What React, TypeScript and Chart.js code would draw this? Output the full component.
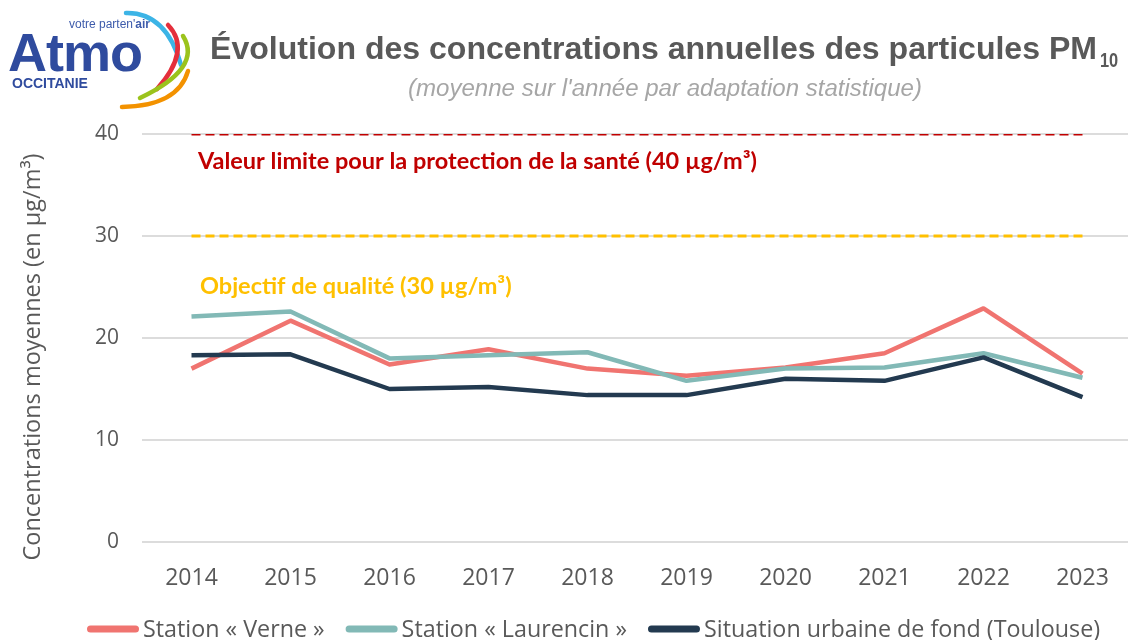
import React, { useEffect, useRef } from "react";
import { Chart, registerables } from "chart.js";

Chart.register(...registerables);

// ---------- data ----------
const years = ["2014", "2015", "2016", "2017", "2018", "2019", "2020", "2021", "2022", "2023"];
const verne = [17.0, 21.7, 17.4, 18.9, 17.0, 16.3, 17.1, 18.5, 22.9, 16.5];
const laurencin = [22.1, 22.6, 18.0, 18.3, 18.6, 15.8, 17.0, 17.1, 18.5, 16.1];
const toulouse = [18.3, 18.4, 15.0, 15.2, 14.4, 14.4, 16.0, 15.8, 18.1, 14.2];
const seriesNames = ["Station « Verne »", "Station « Laurencin »", "Situation urbaine de fond (Toulouse)"];
const seriesColors = ["#f07470", "#82b9b6", "#233a50"];
const limitValue = 40;
const qualityObjective = 30;
const yMin = 0;
const yMax = 40;
const yStep = 10;

const titleMain = "Évolution des concentrations annuelles des particules PM";
const titleSub = "10";
const subtitle = "(moyenne sur l'année par adaptation statistique)";
const yTitle = "Concentrations moyennes (en µg/m³)";
const limitLabel = "Valeur limite pour la protection de la santé (40 µg/m³)";
const objectiveLabel = "Objectif de qualité (30 µg/m³)";

const ARIAL = '"Liberation Sans", Arial, sans-serif';
const SANS = '"Open Sans", "Noto Sans", sans-serif';

function drawScaled(ctx: CanvasRenderingContext2D, text: string, x: number, y: number, font: string, targetWidth: number) {
  ctx.font = font;
  const w = ctx.measureText(text).width;
  const sx = targetWidth / w;
  ctx.save();
  ctx.translate(x, y);
  ctx.scale(sx, 1);
  ctx.fillText(text, 0, 0);
  ctx.restore();
}

const overlayPlugin = {
  id: "overlay",
  afterDraw(chart: any) {
    const ctx: CanvasRenderingContext2D = chart.ctx;
    const ys = chart.scales.y;
    ctx.save();
    // Title (narrow: Arial Narrow look through horizontal compression)
    ctx.textAlign = "left";
    ctx.textBaseline = "alphabetic";
    ctx.fillStyle = "#595959";
    drawScaled(ctx, titleMain, 210, 59, `bold 31px ${ARIAL}`, 887);
    ctx.font = `bold 20px ${ARIAL}`;
    const sw = ctx.measureText(titleSub).width * 0.82;
    drawScaled(ctx, titleSub, 1100, 67, `bold 20px ${ARIAL}`, sw);
    // Subtitle
    ctx.fillStyle = "#a6a6a6";
    drawScaled(ctx, subtitle, 408, 96, `italic 23px ${ARIAL}`, 514);

    // Reference labels
    ctx.font = 'bold 23.5px Lato, "Open Sans", sans-serif';
    ctx.fillStyle = "#c00000";
    ctx.fillText(limitLabel, 198, ys.getPixelForValue(limitValue) + 35);
    ctx.fillStyle = "#ffc000";
    ctx.fillText(objectiveLabel, 200, ys.getPixelForValue(qualityObjective) + 58);

    // Y axis title
    ctx.save();
    ctx.translate(33, 357);
    ctx.rotate(-Math.PI / 2);
    ctx.textAlign = "center";
    ctx.textBaseline = "middle";
    ctx.fillStyle = "#595959";
    ctx.font = `23.5px ${SANS}`;
    ctx.fillText(yTitle, 0, 0);
    ctx.restore();

    // Legend
    ctx.font = `23.3px ${SANS}`;
    ctx.textBaseline = "alphabetic";
    let x = 87;
    const ly = 629;
    chart.data.datasets.forEach((ds: any) => {
      if (ds.isReference) return;
      ctx.strokeStyle = ds.borderColor;
      ctx.lineWidth = 7;
      ctx.lineCap = "round";
      ctx.beginPath();
      ctx.moveTo(x + 3.5, ly);
      ctx.lineTo(x + 48.5, ly);
      ctx.stroke();
      ctx.fillStyle = "#595959";
      ctx.fillText(ds.label, x + 56, 637);
      x = x + 56 + ctx.measureText(ds.label).width + 21;
    });
    ctx.restore();
  },
};

function Logo() {
  const blue = "#2f4b9e";
  return (
    <svg width={200} height={115} style={{ position: "absolute", left: 0, top: 0 }}>
      <text x={69} y={28} fontFamily='"Liberation Sans", Arial, sans-serif' fontSize={12} fill="#3d5bab">
        votre parten'<tspan fontWeight="bold">air</tspan>
      </text>
      <text x={8} y={71} fontFamily='"Liberation Sans", Arial, sans-serif' fontWeight="bold" fontSize={54} fill={blue} letterSpacing={-1}>
        Atmo
      </text>
      <text x={12} y={88} fontFamily='"Liberation Sans", Arial, sans-serif' fontWeight="bold" fontSize={14} fill={blue}>
        OCCITANIE
      </text>
      <g fill="none" strokeWidth={4.5} strokeLinecap="round">
        <path d="M126 13 Q166 12 181 65" stroke="#3cb4e6" />
        <path d="M168 25 Q192 50 157 89" stroke="#e42f3c" />
        <path d="M183 36 Q203 68 140 98" stroke="#9bc31c" />
        <path d="M188 71 Q178 106 122 107" stroke="#f39200" />
      </g>
    </svg>
  );
}

export default function App() {
  const ref = useRef<HTMLCanvasElement | null>(null);

  useEffect(() => {
    if (!ref.current) return;
    const mk = (label: string, data: number[], color: string, order: number) => ({
      label,
      data,
      borderColor: color,
      backgroundColor: color,
      borderWidth: 4.5,
      pointRadius: 0,
      tension: 0,
      borderJoinStyle: "round" as const,
      borderCapStyle: "butt" as const,
      order,
    });
    const chart = new Chart(ref.current, {
      type: "line",
      data: {
        labels: years,
        datasets: [
          mk(seriesNames[0], verne, seriesColors[0], 3),
          mk(seriesNames[1], laurencin, seriesColors[1], 2),
          mk(seriesNames[2], toulouse, seriesColors[2], 1),
          {
            label: "limit",
            isReference: true,
            data: years.map(() => limitValue),
            borderColor: "#c00000",
            borderWidth: 3,
            borderDash: [9, 5],
            pointRadius: 0,
            order: 10,
          } as any,
          {
            label: "objective",
            isReference: true,
            data: years.map(() => qualityObjective),
            borderColor: "#ffc000",
            borderWidth: 3,
            borderDash: [9, 5],
            pointRadius: 0,
            order: 11,
          } as any,
        ],
      },
      options: {
        responsive: false,
        animation: false,
        layout: { padding: { top: 134, left: 0, right: 0, bottom: 0 } },
        plugins: {
          legend: { display: false },
          title: { display: false },
          tooltip: { enabled: false },
        },
        scales: {
          x: {
            type: "category",
            offset: true,
            grid: { display: false, drawTicks: false },
            border: { display: false },
            ticks: {
              font: { family: SANS, size: 23 },
              color: "#595959",
              padding: 23,
              maxRotation: 0,
              autoSkip: false,
            },
            afterFit(s: any) {
              s.height = 98;
            },
          },
          y: {
            min: yMin,
            max: yMax,
            ticks: {
              stepSize: yStep,
              padding: 23,
              font: { family: SANS, size: 21 },
              color: "#595959",
            },
            grid: { color: "#dcdcdc", lineWidth: 2, drawTicks: false },
            border: { display: false },
            afterFit(s: any) {
              s.width = 142;
            },
          },
        },
      },
      plugins: [overlayPlugin],
    });
    return () => chart.destroy();
  }, []);

  return (
    <div style={{ position: "fixed", left: 0, top: 0, width: 1132, height: 640, background: "#fff" }}>
      <canvas ref={ref} width={1132} height={640} style={{ display: "block", width: 1132, height: 640 }} />
      <Logo />
    </div>
  );
}
